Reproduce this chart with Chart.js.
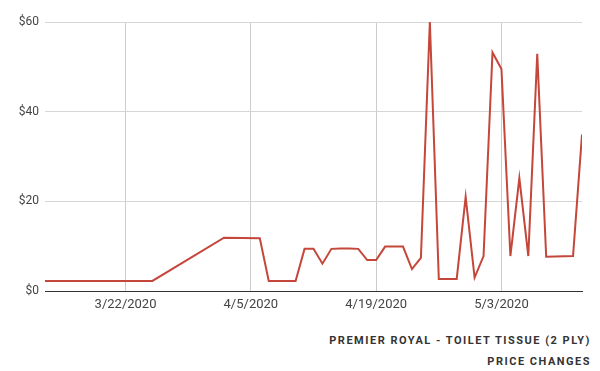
<!DOCTYPE html>
<html>
<head>
<meta charset="utf-8">
<script src="https://cdn.jsdelivr.net/npm/chart.js@4/dist/chart.umd.min.js"></script>
<style>
    body { margin: 0; background: #fff; font-family: Roboto, sans-serif; }
    #wrap { position: relative; width: 600px; height: 371px; }
    #chart { position: absolute; left: 0; top: 0; }
    .cap { position: absolute; right: 9px; font-size: 11px; font-weight: 700; letter-spacing: 1.5px; color: #333; white-space: nowrap; }
</style>
</head>
<body>
<div id="wrap">
    <canvas id="chart" width="600" height="320"></canvas>
    <div class="cap" style="top:334px">PREMIER ROYAL - TOILET TISSUE (2 PLY)</div>
    <div class="cap" style="top:355px">PRICE CHANGES</div>
</div>
<script>
const dates = ['3/13/2020', '3/25/2020', '4/2/2020', '4/6/2020', '4/7/2020', '4/10/2020', '4/11/2020',
    '4/12/2020', '4/13/2020', '4/14/2020', '4/15/2020', '4/16/2020', '4/17/2020', '4/18/2020', '4/19/2020',
    '4/20/2020', '4/22/2020', '4/23/2020', '4/24/2020', '4/25/2020', '4/26/2020', '4/28/2020', '4/29/2020',
    '4/30/2020', '5/1/2020', '5/2/2020', '5/3/2020', '5/4/2020', '5/5/2020', '5/6/2020', '5/7/2020',
    '5/8/2020', '5/11/2020', '5/12/2020'];
const prices = [2.25, 2.25, 11.9, 11.75, 2.25, 2.25, 9.4,
    9.4, 6.1, 9.4, 9.5, 9.5, 9.4, 6.9, 6.9,
    9.9, 9.9, 4.9, 7.4, 60, 2.7, 2.7, 21.0,
    3.0, 7.8, 53.2, 49.5, 7.8, 25.2, 7.8, 52.9,
    7.65, 7.8, 34.9];
const tickDates = ['3/22/2020', '4/5/2020', '4/19/2020', '5/3/2020'];
const yTicks = [0, 20, 40, 60];

const DAY = 86400000;
function dayNum(s) {
    const [m, d, y] = s.split('/').map(Number);
    return Math.round(Date.UTC(y, m - 1, d) / DAY);
}
function dayLabel(n) {
    const dt = new Date(n * DAY);
    return (dt.getUTCMonth() + 1) + '/' + dt.getUTCDate() + '/' + dt.getUTCFullYear();
}

const points = dates.map((d, i) => ({ x: dayNum(d), y: prices[i] }));
const xTicks = tickDates.map(dayNum);

Chart.defaults.font.family = 'Roboto, sans-serif';
Chart.defaults.color = '#444';

new Chart(document.getElementById('chart'), {
    type: 'line',
    data: {
        datasets: [{
            data: points,
            borderColor: '#c5463a',
            borderWidth: 2,
            pointRadius: 0,
            tension: 0,
        }],
    },
    options: {
        responsive: false,
        animation: false,
        layout: { padding: { top: 22, right: 18, left: 0, bottom: 0 } },
        plugins: { legend: { display: false }, tooltip: { enabled: false } },
        scales: {
            x: {
                type: 'linear',
                min: dayNum('3/13/2020'),
                max: dayNum('5/12/2020'),
                afterBuildTicks: axis => { axis.ticks = xTicks.map(v => ({ value: v })); },
                afterFit: axis => { axis.height = 29; },
                ticks: { callback: v => dayLabel(v), font: { size: 13 }, padding: 6, maxRotation: 0 },
                grid: { color: '#ccc', drawTicks: false },
                border: { display: true, color: '#333', width: 1 },
            },
            y: {
                min: 0,
                max: 60,
                afterBuildTicks: axis => { axis.ticks = yTicks.map(v => ({ value: v })); },
                afterFit: axis => { axis.width = 45; },
                ticks: { callback: v => '$' + v, font: { size: 12 }, padding: 6 },
                grid: { color: c => c.tick.value === 0 ? '#333' : '#d6d6d6', drawTicks: false },
                border: { display: false },
            },
        },
    },
});
</script>
</body>
</html>
